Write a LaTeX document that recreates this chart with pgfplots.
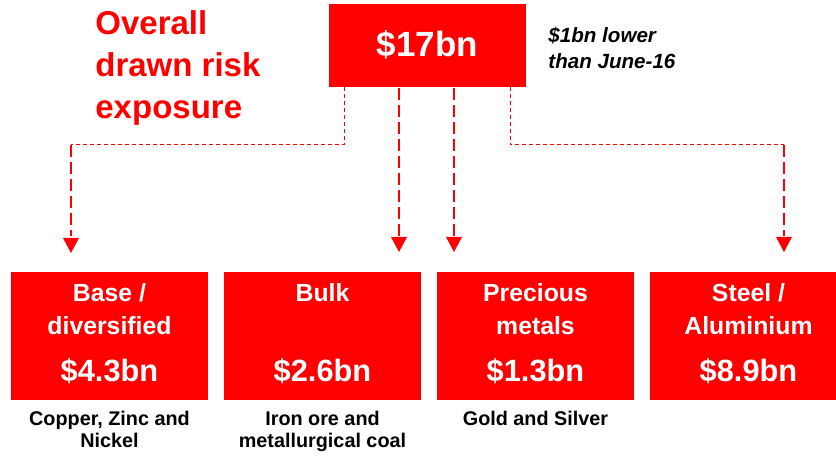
\documentclass[border=0pt]{standalone}
\usepackage{fontspec}
\setmainfont{Liberation Sans}
\usepackage{pgfplots}
\pgfplotsset{compat=1.18}
\definecolor{exred}{RGB}{255, 0, 0}

% one axis unit = one pixel of the 836x453 reference
\pgfplotsset{
  box/.style={fill=exred, draw=none},
  thin dash/.style={exred, line width=0.5pt, dash pattern=on 2pt off 1.5pt},
  thick dash/.style={exred, line width=1.4pt, dash pattern=on 6pt off 2.5pt},
}
\newcommand{\boxtitle}{\fontsize{12.4}{14}\selectfont\bfseries\color{white}}
\newcommand{\boxvalue}{\fontsize{15.4}{18}\selectfont\bfseries\color{white}}
\newcommand{\subnote}{\fontsize{9.9}{12}\selectfont\bfseries}
\newcommand{\titlefont}{\fontsize{16.5}{19}\selectfont\bfseries}
\newcommand{\notefont}{\fontsize{10.3}{12}\selectfont\bfseries\itshape}

\begin{document}
\begin{tikzpicture}
\begin{axis}[
  scale only axis, width=418pt, height=226.5pt,
  xmin=0, xmax=836, ymin=0, ymax=453, y dir=reverse,
  hide axis, clip=false,
]
  \addplot[draw=none] coordinates {(0,0) (836,453)};

  % total box
  \addplot[box] coordinates {(329,4) (526,4) (526,87) (329,87)};
  \node[anchor=base] at (axis cs:427.5,57) {\fontsize{17.5}{20}\selectfont\bfseries\color{white}\$17bn};

  % connectors
  \addplot[thin dash] coordinates {(344,87) (344,145) (71,145)};
  \addplot[thick dash] coordinates {(71,145) (71,236)};
  \addplot[thick dash] coordinates {(399,88) (399,236)};
  \addplot[thick dash] coordinates {(454,88) (454,236)};
  \addplot[thin dash] coordinates {(510,87) (510,145) (784,145)};
  \addplot[thick dash] coordinates {(784,145) (784,236)};
  \addplot[box] coordinates {(63,238) (79,238) (71,253)};
  \addplot[box] coordinates {(391,237) (407,237) (399,252)};
  \addplot[box] coordinates {(446,237) (462,237) (454,252)};
  \addplot[box] coordinates {(776,237) (792,237) (784,252)};

  % segment boxes
  \addplot[box] coordinates {(11,272) (208,272) (208,400) (11,400)};
  \addplot[box] coordinates {(224,272) (421,272) (421,400) (224,400)};
  \addplot[box] coordinates {(437,272) (634,272) (634,400) (437,400)};
  \addplot[box] coordinates {(650,272) (836,272) (836,400) (650,400)};

  % title and note
  \node[anchor=base west, inner sep=0pt, font=\titlefont, text=exred] at (axis cs:95,35) {Overall};
  \node[anchor=base west, inner sep=0pt, font=\titlefont, text=exred] at (axis cs:95,77) {drawn risk};
  \node[anchor=base west, inner sep=0pt, font=\titlefont, text=exred] at (axis cs:95,119) {exposure};
  \node[anchor=base west, inner sep=0pt, font=\notefont] at (axis cs:548,43) {\$1bn lower};
  \node[anchor=base west, inner sep=0pt, font=\notefont] at (axis cs:548,69) {than June-16};

  % box texts
  \node[anchor=base] at (axis cs:109.5,302) {\boxtitle Base /};
  \node[anchor=base] at (axis cs:109.5,335) {\boxtitle diversified};
  \node[anchor=base] at (axis cs:109.5,382) {\boxvalue \$4.3bn};
  \node[anchor=base] at (axis cs:322.5,302) {\boxtitle Bulk};
  \node[anchor=base] at (axis cs:322.5,382) {\boxvalue \$2.6bn};
  \node[anchor=base] at (axis cs:535.5,302) {\boxtitle Precious};
  \node[anchor=base] at (axis cs:535.5,335) {\boxtitle metals};
  \node[anchor=base] at (axis cs:535.5,382) {\boxvalue \$1.3bn};
  \node[anchor=base] at (axis cs:748.5,302) {\boxtitle Steel /};
  \node[anchor=base] at (axis cs:748.5,335) {\boxtitle Aluminium};
  \node[anchor=base] at (axis cs:748.5,382) {\boxvalue \$8.9bn};

  % notes below boxes
  \node[anchor=base] at (axis cs:109.5,426) {\subnote Copper, Zinc and};
  \node[anchor=base] at (axis cs:109.5,448) {\subnote Nickel};
  \node[anchor=base] at (axis cs:322.5,426) {\subnote Iron ore and};
  \node[anchor=base] at (axis cs:322.5,448) {\subnote metallurgical coal};
  \node[anchor=base] at (axis cs:535.5,426) {\subnote Gold and Silver};
\end{axis}
\end{tikzpicture}
\end{document}
